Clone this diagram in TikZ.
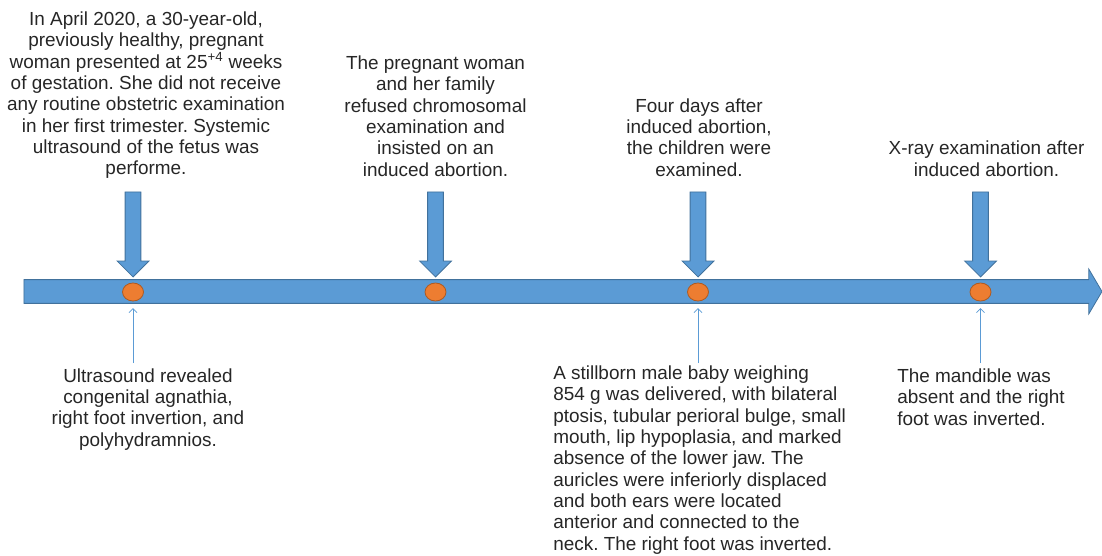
\documentclass[tikz,border=0pt]{standalone}
\usepackage{fontspec}
\setmainfont{Liberation Sans}
\usetikzlibrary{arrows.meta,shapes.arrows,shapes.geometric}
\definecolor{tlblue}{HTML}{5B9BD5}
\definecolor{tlblued}{HTML}{41719C}
\definecolor{tlorange}{HTML}{ED7D31}
\definecolor{tloranged}{HTML}{AE5A21}
\definecolor{tltext}{HTML}{262626}
\frenchspacing
\tikzset{
  tlbar/.style     = {single arrow, fill=tlblue, draw=tlblued, line width=0.6pt,
                      inner sep=8.6pt, minimum height=808.5pt,
                      single arrow head extend=7.9pt, single arrow tip angle=119},
  evarrow/.style   = {single arrow, shape border rotate=270, fill=tlblue,
                      draw=tlblued, line width=0.6pt, inner sep=5.6pt,
                      minimum height=63.75pt, single arrow head extend=6pt},
  evdot/.style     = {ellipse, fill=tlorange, draw=tloranged, line width=0.6pt,
                      inner sep=0pt, minimum width=15.75pt, minimum height=13.5pt},
  pointer/.style   = {-{Straight Barb[length=3pt,width=6pt]}, draw=tlblue,
                      line width=0.6pt, shorten >=5pt},
  toptext/.style   = {align=center, anchor=base, inner sep=0pt, text=tltext,
                      font=\fontsize{14.2}{16}\selectfont},
  lowleft/.style   = {toptext, align=left, anchor=base west},
}

\begin{document}
\begin{tikzpicture}[x=0.75pt, y=-0.75pt]
  \useasboundingbox (0,0) rectangle (1102,556);

  % ---------- time line ---------------------------------------------------
  \node[tlbar] (bar) at (559.5,291.5) {};

  % ---------- events ------------------------------------------------------
  \node[evarrow] (a1) at (133,230.5) {};
  \node[evarrow] (a2) at (435.5,230.5) {};
  \node[evarrow] (a3) at (698,230.5) {};
  \node[evarrow] (a4) at (980.5,230.5) {};

  \node[evdot] (c1) at (133,292) {};
  \node[evdot] (c2) at (435.5,292) {};
  \node[evdot] (c3) at (698,292) {};
  \node[evdot] (c4) at (980.5,292) {};

  % ---------- texts above (anchored on their last line) -------------------
  \node[toptext] (t1) at (146,175)
    {In April 2020, a 30-year-old,\\ previously healthy, pregnant\\
     woman presented at 25\textsuperscript{+4} weeks\\
     of gestation. She did not receive\\ any routine obstetric examination\\
     in her first trimester. Systemic\\ ultrasound of the fetus was\\ performe.};
  \node[toptext] (t2) at (435.5,176)
    {The pregnant woman\\ and her family\\ refused chromosomal\\
     examination and\\ insisted on an\\ induced abortion.};
  \node[toptext] (t3) at (699,176)
    {Four days after\\ induced abortion,\\ the children were\\ examined.};
  \node[toptext] (t4) at (986.5,176)
    {X-ray examination after\\ induced abortion.};

  % ---------- texts below -------------------------------------------------
  \node[toptext] (b1) at (148,446)
    {Ultrasound revealed\\ congenital agnathia,\\ right foot invertion, and\\
     polyhydramnios.};
  \node[lowleft] (b3) at (553,550)
    {A stillborn male baby weighing\\ 854 g was delivered, with bilateral\\
     ptosis, tubular perioral bulge, small\\ mouth, lip hypoplasia, and marked\\
     absence of the lower jaw. The\\ auricles were inferiorly displaced\\
     and both ears were located\\ anterior and connected to the\\
     neck. The right foot was inverted.};
  \node[lowleft] (b4) at (897,425)
    {The mandible was\\ absent and the right\\ foot was inverted.};

  \coordinate (u1) at (133,363);
  \coordinate (u3) at (698,363);
  \coordinate (u4) at (980.5,363);
  \draw[pointer] (u1) -- (c1.south);
  \draw[pointer] (u3) -- (c3.south);
  \draw[pointer] (u4) -- (c4.south);

\end{tikzpicture}
\end{document}
